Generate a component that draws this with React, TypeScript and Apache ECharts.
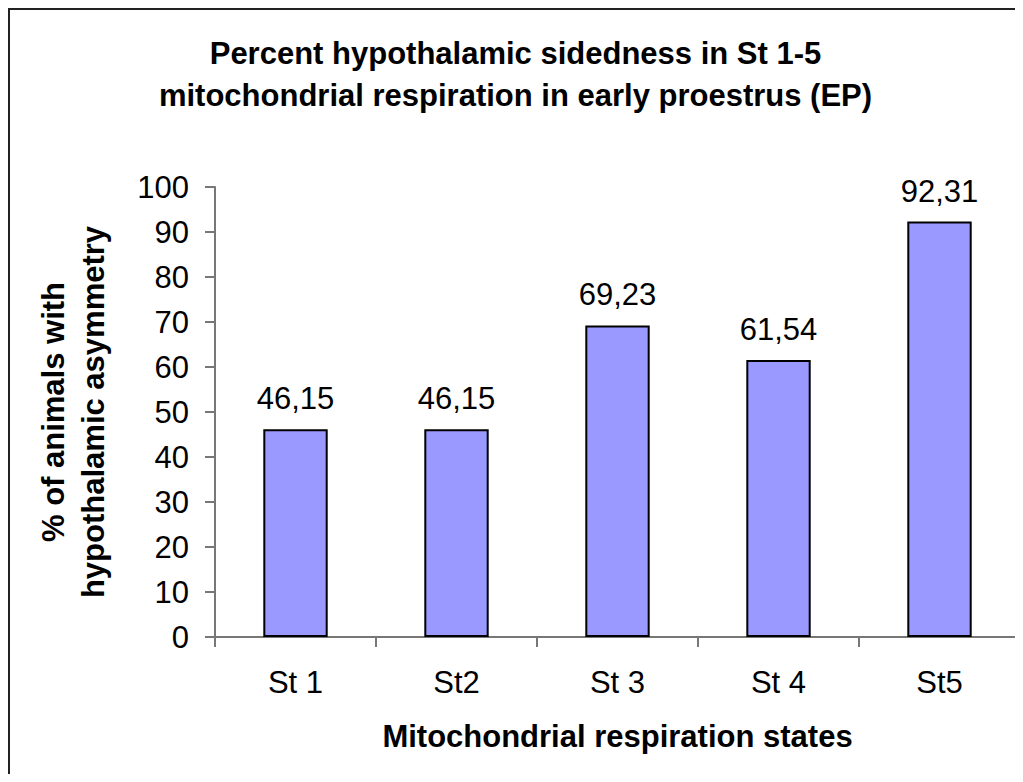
import React, { useEffect, useRef } from "react";
import * as echarts from "echarts";

const categories = ["St 1", "St2", "St 3", "St 4", "St5"];
const values = [46.15, 46.15, 69.23, 61.54, 92.31];
const titleLines = [
  "Percent hypothalamic sidedness in St 1-5",
  "mitochondrial respiration in early proestrus (EP)",
];
const xAxisName = "Mitochondrial respiration states";
const yAxisNameLines = ["% of animals with", "hypothalamic asymmetry"];

const FONT = "Arial, 'Liberation Sans', Helvetica, sans-serif";
const FS = 31;

export default function App() {
  const ref = useRef<HTMLDivElement>(null);
  useEffect(() => {
    if (!ref.current) return;
    const chart = echarts.init(ref.current, undefined, { renderer: "svg" });
    chart.setOption({
      animation: false,
      backgroundColor: "#ffffff",
      textStyle: { fontFamily: FONT },
      title: {
        text: titleLines.join("\n"),
        left: "center",
        top: 24,
        padding: 0,
        textStyle: {
          fontFamily: FONT,
          fontSize: FS,
          fontWeight: "bold",
          color: "#000",
          lineHeight: 42,
        },
      },
      graphic: [
        {
          type: "rect",
          shape: { x: 1, y: 1, width: 1100, height: 900 },
          style: { fill: "none", stroke: "#222", lineWidth: 2 },
          silent: true,
        },
      ],
      grid: { left: 207, right: 3, top: 179, bottom: 137, containLabel: false },
      xAxis: {
        type: "category",
        data: categories,
        name: xAxisName,
        nameLocation: "middle",
        nameGap: 84,
        nameTextStyle: {
          fontFamily: FONT,
          fontSize: FS,
          fontWeight: "bold",
          color: "#000",
        },
        axisLine: { lineStyle: { color: "#777", width: 2 } },
        axisTick: { show: true, length: 10, lineStyle: { color: "#777", width: 2 } },
        axisLabel: {
          margin: 30,
          fontFamily: FONT,
          fontSize: FS,
          color: "#000",
        },
      },
      yAxis: {
        type: "value",
        min: 0,
        max: 100,
        interval: 10,
        name: yAxisNameLines.join("\n"),
        nameLocation: "middle",
        nameGap: 102,
        nameTextStyle: {
          fontFamily: FONT,
          fontSize: FS,
          fontWeight: "bold",
          color: "#000",
          lineHeight: 40,
        },
        axisLine: { show: true, lineStyle: { color: "#777", width: 2 } },
        axisTick: { show: true, length: 10, lineStyle: { color: "#777", width: 2 } },
        splitLine: { show: false },
        axisLabel: {
          margin: 26,
          fontFamily: FONT,
          fontSize: FS,
          color: "#000",
        },
      },
      series: [
        {
          type: "bar",
          data: values,
          barWidth: "40%",
          itemStyle: { color: "#9999FF", borderColor: "#000", borderWidth: 2 },
          label: {
            show: true,
            position: "top",
            distance: 15,
            fontFamily: FONT,
            fontSize: FS,
            color: "#000",
            formatter: (p: any) => p.value.toFixed(2).replace(".", ","),
          },
        },
      ],
    });
    return () => chart.dispose();
  }, []);
  return <div ref={ref} style={{ width: 1015, height: 766 }} />;
}
